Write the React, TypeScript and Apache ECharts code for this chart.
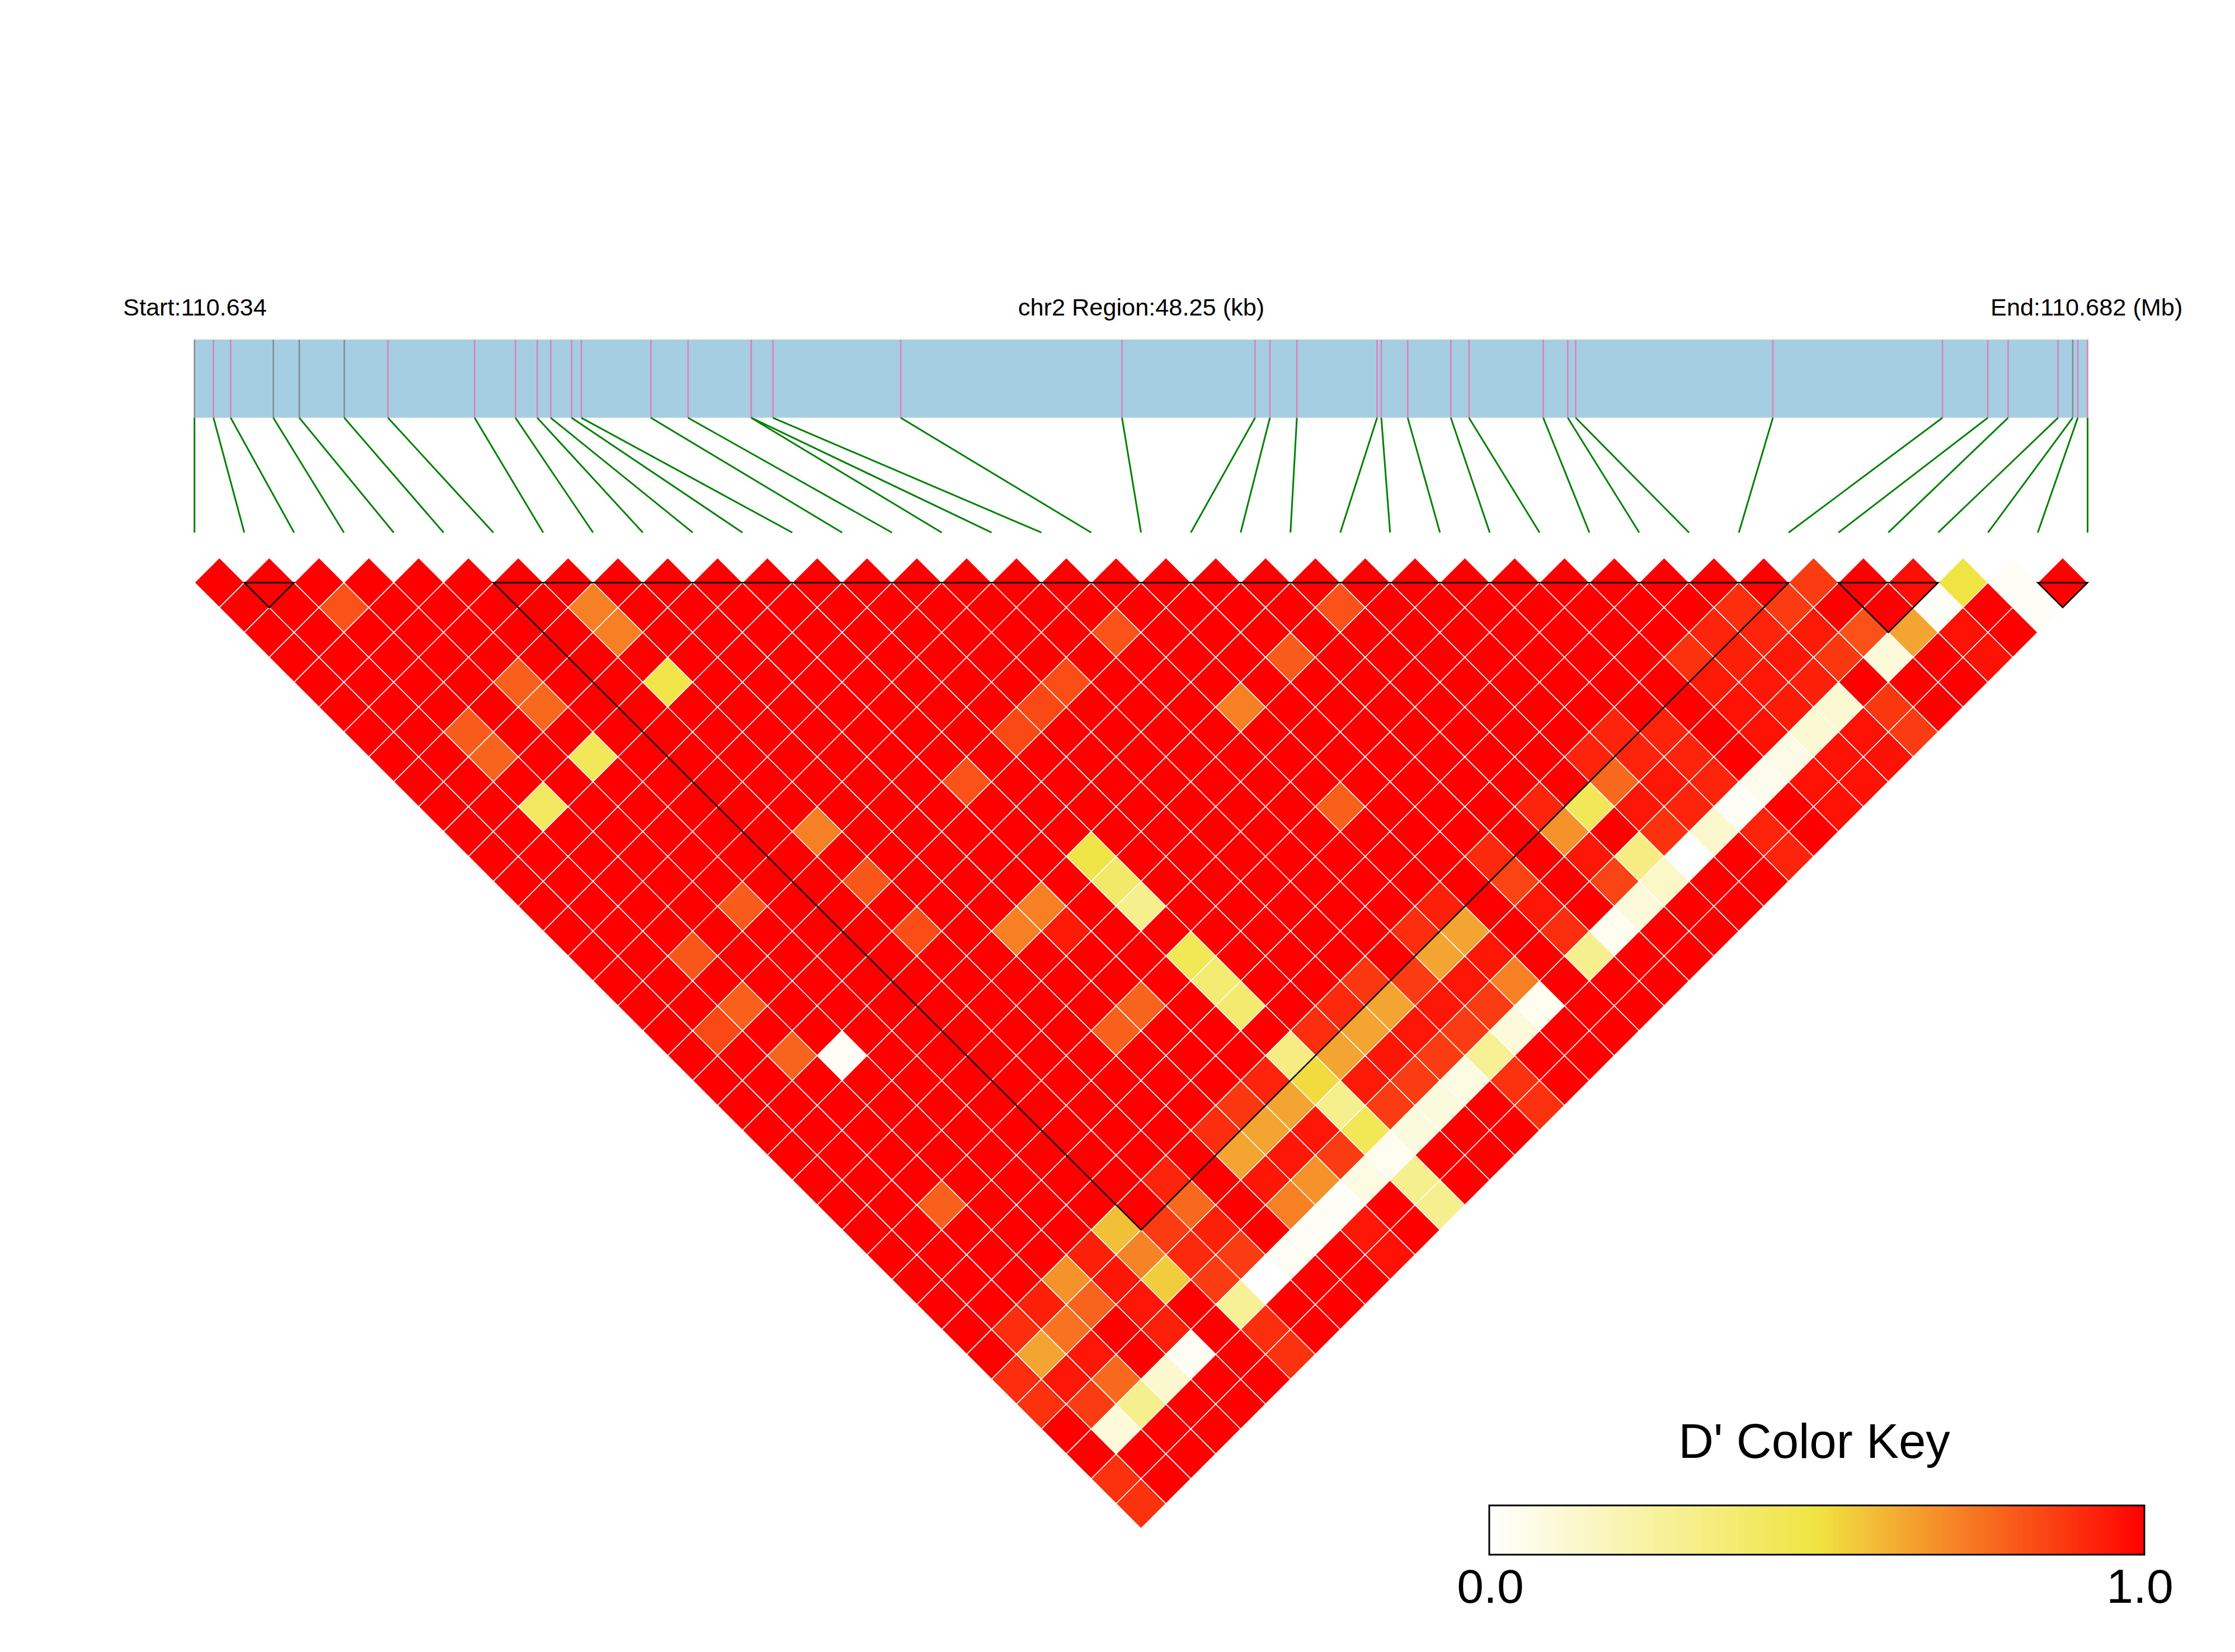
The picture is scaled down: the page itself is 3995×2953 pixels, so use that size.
import React, { useEffect, useRef } from "react";
import * as echarts from "echarts";

// SNP physical positions, kb from the region start
const snpKb = [
  0, 0.485, 0.923, 2.01, 2.672, 3.818, 4.931, 7.14, 8.181, 8.737, 9.08, 9.611, 9.86, 11.633, 12.58, 14.187, 14.194,
  14.743, 18.0, 23.64, 27.032, 27.41, 28.097, 30.142, 30.249, 30.922, 32.021, 32.483, 34.376, 35.001, 35.203, 40.229,
  44.551, 45.706, 46.224, 47.496, 47.871, 48.0, 48.25,
];
const regionKb = 48.25;
const graySnps = [0, 3, 4, 5, 36];

// D' for pairs [i, j, value]; every other pair reads as 1.0
const belowOne: number[][] = [
  [2, 4, 0.82], [7, 9, 0.72], [7, 10, 0.72], [7, 12, 0.48], [4, 9, 0.79], [4, 10, 0.77], [2, 9, 0.8], [2, 10, 0.78],
  [4, 12, 0.44], [2, 12, 0.42], [7, 18, 0.72], [4, 18, 0.8], [2, 18, 0.81], [2, 20, 0.79], [1, 20, 0.84], [2, 22, 0.78],
  [3, 23, 0.02], [9, 28, 0.79], [10, 28, 0.78], [2, 28, 0.79],
  [5, 32, 0.58], [4, 32, 0.93], [5, 33, 0.71], [5, 34, 0.55], [3, 32, 0.68], [3, 33, 0.78], [2, 32, 0.93], [4, 33, 0.95],
  [4, 34, 0.95], [4, 35, 0.93], [2, 33, 0.75], [1, 32, 0.9], [1, 33, 0.64], [2, 34, 0.95], [2, 35, 0.77], [0, 33, 0.9],
  [1, 34, 0.95], [0, 34, 0.89], [1, 35, 0.87], [2, 36, 0.3], [3, 36, 0.13], [1, 36, 0.1], [0, 37, 0.89], [0, 38, 0.89],
  [12, 30, 0.38], [15, 33, 0.64], [16, 34, 0.95], [17, 35, 0.87], [18, 36, 0.04], [13, 32, 0.9], [13, 33, 0.64],
  [14, 33, 0.64], [15, 34, 0.95], [16, 35, 0.87], [17, 36, 0.1], [12, 32, 0.33], [12, 33, 0.52], [12, 34, 0.3],
  [12, 35, 0.45], [12, 36, 0.04], [11, 32, 0.92], [11, 33, 0.64], [10, 32, 0.88], [10, 33, 0.64], [9, 33, 0.64],
  [9, 32, 0.9], [7, 32, 0.92], [7, 33, 0.77], [6, 33, 0.87], [6, 34, 0.91], [7, 34, 0.93], [7, 35, 0.87], [6, 35, 0.87],
  [6, 36, 0.28], [7, 36, 0], [8, 36, 0.03], [9, 36, 0.02], [10, 36, 0.02], [11, 36, 0.08], [13, 36, 0.09], [14, 36, 0.09],
  [15, 36, 0.08], [16, 36, 0.28], [12, 37, 0.3], [12, 38, 0.3], [4, 36, 0.03], [6, 37, 0.9], [6, 38, 0.89], [10, 38, 0.96],
  [10, 37, 0.95], [10, 35, 0.68], [9, 35, 0.72], [11, 35, 0.87], [13, 35, 0.87], [14, 35, 0.87], [15, 35, 0.87],
  [16, 38, 0.89], [16, 37, 0.89], [11, 34, 0.95], [13, 34, 0.94], [14, 34, 0.95], [9, 34, 0.95], [10, 34, 0.95],
  [32, 33, 0.87], [35, 36, 0.5], [36, 37, 0.02], [34, 35, 0.97], [30, 32, 0.9], [31, 33, 0.87], [34, 36, 0.02],
  [36, 38, 0.02], [29, 32, 0.92], [30, 33, 0.92], [31, 34, 0.94], [32, 35, 0.82], [33, 36, 0.64], [34, 37, 0.96],
  [28, 32, 0.89], [29, 33, 0.93], [30, 34, 0.95], [31, 35, 0.88], [32, 36, 0.1], [34, 38, 0.96], [28, 33, 0.94],
  [29, 34, 0.95], [30, 35, 0.93], [30, 36, 0.12], [29, 35, 0.94], [28, 34, 0.96], [31, 37, 0.88], [25, 32, 0.92],
  [26, 33, 0.92], [28, 35, 0.96], [29, 36, 0.12], [30, 37, 0.96], [31, 38, 0.87], [24, 32, 0.92], [25, 33, 0.92],
  [26, 34, 0.92], [28, 36, 0.07], [29, 37, 0.96], [30, 38, 0.96], [24, 33, 0.77], [25, 34, 0.95], [26, 35, 0.92],
  [27, 36, 0.05], [28, 37, 0.96], [29, 38, 0.96], [22, 32, 0.92], [23, 33, 0.44], [24, 34, 0.95], [25, 35, 0.92],
  [26, 36, 0.02], [28, 38, 0.96], [22, 33, 0.68], [24, 35, 0.89], [25, 36, 0.13], [26, 37, 0.92], [20, 32, 0.91],
  [22, 34, 0.95], [23, 35, 0.33], [24, 36, 0], [26, 38, 0.92], [20, 33, 0.85], [22, 35, 0.85], [23, 36, 0.15],
  [18, 32, 0.93], [20, 34, 0.95], [22, 36, 0.1], [17, 32, 0.9], [18, 33, 0.64], [20, 35, 0.9], [21, 36, 0.04],
  [17, 33, 0.64], [18, 34, 0.95], [20, 36, 0.3], [16, 33, 0.87], [17, 34, 0.95], [18, 35, 0.72], [22, 24, 0.82],
  [17, 20, 0.82], [20, 24, 0.8], [15, 20, 0.83], [14, 20, 0.84], [18, 24, 0.72], [13, 20, 0.84], [11, 20, 0.82],
  [18, 28, 0.79], [12, 24, 0.49], [7, 20, 0.81], [12, 25, 0.4], [12, 26, 0.3], [10, 24, 0.72], [9, 24, 0.72],
  [10, 25, 0.94], [7, 22, 0.83], [12, 28, 0.45], [12, 29, 0.37], [15, 32, 0.88], [14, 32, 0.91],
];

// LD blocks, as [first SNP, last SNP]
const ldBlocks = [[1, 2], [6, 32], [33, 35], [37, 38]];
const keyStops = ["#FFFFFF", "#F0E442", "#FF0000"];
const keyLabels = ["0.0", "1.0"];

const snpCount = snpKb.length;
const lookup = new Map(belowOne.map((d) => [`${d[0]}-${d[1]}`, d[2]]));
const cells: number[][] = [];
for (let i = 0; i < snpCount; i++) {
  for (let j = i + 1; j < snpCount; j++) {
    cells.push([i, j, lookup.has(`${i}-${j}`) ? (lookup.get(`${i}-${j}`) as number) : 1]);
  }
}

const FONT = "Liberation Sans";
const toIdx = (kb: number) => (kb / regionKb) * (snpCount - 1);
// y axis unit is one heat-map row
const TRACK_TOP = -9.76;
const TRACK_BOTTOM = -6.62;
const LINK_BOTTOM = -2.01;

function text(content: string, x: number, y: number, size: number, align: string) {
  return {
    type: "text",
    x,
    y,
    silent: true,
    style: { text: content, fill: "#000", font: `${size}px "${FONT}"`, textAlign: align, textVerticalAlign: "middle", verticalAlign: "middle" },
  };
}

export default function App() {
  const ref = useRef<HTMLDivElement>(null);
  useEffect(() => {
    const chart = echarts.init(ref.current!, undefined, { renderer: "svg" });
    chart.setOption({
      animation: false,
      backgroundColor: "#fff",
      grid: { left: 347.6, width: 3383.9, top: 551.9, height: 2180.5, containLabel: false },
      xAxis: { type: "value", min: 0, max: snpCount - 1, show: false },
      yAxis: { type: "value", min: -11, max: 38, inverse: true, show: false },
      visualMap: { show: false, type: "continuous", min: 0, max: 1, dimension: 2, seriesIndex: 3, inRange: { color: keyStops } },
      series: [
        {
          type: "custom",
          name: "track",
          coordinateSystem: "cartesian2d",
          silent: true,
          data: [[0, snpCount - 1]],
          renderItem: (_p: any, api: any) => {
            const a = api.coord([api.value(0), TRACK_TOP]);
            const b = api.coord([api.value(1), TRACK_BOTTOM]);
            return { type: "rect", shape: { x: a[0], y: a[1], width: b[0] - a[0], height: b[1] - a[1] }, style: { fill: "#A6CEE3" } };
          },
        },
        {
          type: "custom",
          name: "snp ticks",
          coordinateSystem: "cartesian2d",
          silent: true,
          data: snpKb.map((kb, i) => [toIdx(kb), i]),
          renderItem: (_p: any, api: any) => {
            const a = api.coord([api.value(0), TRACK_TOP]);
            const b = api.coord([api.value(0), TRACK_BOTTOM]);
            const gray = graySnps.includes(api.value(1));
            return {
              type: "line",
              shape: { x1: a[0], y1: a[1], x2: b[0], y2: b[1] },
              style: { stroke: gray ? "#7F8C8C" : "#DE7FB6", lineWidth: 2.5 },
            };
          },
        },
        {
          type: "custom",
          name: "links",
          coordinateSystem: "cartesian2d",
          silent: true,
          data: snpKb.map((kb, i) => [toIdx(kb), i]),
          renderItem: (_p: any, api: any) => {
            const a = api.coord([api.value(0), TRACK_BOTTOM]);
            const b = api.coord([api.value(1), LINK_BOTTOM]);
            return { type: "line", shape: { x1: a[0], y1: a[1], x2: b[0], y2: b[1] }, style: { stroke: "#008000", lineWidth: 3 } };
          },
        },
        {
          type: "custom",
          name: "D'",
          coordinateSystem: "cartesian2d",
          silent: true,
          data: cells,
          renderItem: (_p: any, api: any) => {
            const i = api.value(0);
            const j = api.value(1);
            const cx = (i + j) / 2;
            const r = j - i - 1;
            const pts = [
              api.coord([cx, r - 1]),
              api.coord([cx + 0.5, r]),
              api.coord([cx, r + 1]),
              api.coord([cx - 0.5, r]),
            ];
            return { type: "polygon", shape: { points: pts }, style: { fill: api.visual("color"), stroke: "#FFFFFF", lineWidth: 1.5 } };
          },
        },
        {
          type: "custom",
          name: "blocks",
          coordinateSystem: "cartesian2d",
          silent: true,
          data: ldBlocks,
          renderItem: (_p: any, api: any) => {
            const a = api.value(0);
            const b = api.value(1);
            const pts = [api.coord([a, 0]), api.coord([b, 0]), api.coord([(a + b) / 2, b - a])];
            return { type: "polygon", shape: { points: pts }, style: { fill: "none", stroke: "#000", lineWidth: 2.5 } };
          },
        },
      ],
      graphic: [
        text("Start:110.634", 220, 549, 43.3, "left"),
        text("chr2 Region:48.25 (kb)", 2040, 549, 43.3, "center"),
        text("End:110.682 (Mb)", 3558, 549, 43.3, "left"),
        text("D' Color Key", 3243, 2575, 87, "center"),
        {
          type: "rect",
          silent: true,
          shape: { x: 2662, y: 2691, width: 1171, height: 88 },
          style: {
            fill: new echarts.graphic.LinearGradient(0, 0, 1, 0, [
              { offset: 0, color: keyStops[0] },
              { offset: 0.5, color: keyStops[1] },
              { offset: 1, color: keyStops[2] },
            ]),
            stroke: "#000",
            lineWidth: 3,
          },
        },
        text(keyLabels[0], 2664, 2835, 86, "center"),
        text(keyLabels[1], 3825, 2835, 86, "center"),
      ],
    });
    return () => chart.dispose();
  }, []);
  return <div ref={ref} style={{ position: "absolute", left: 0, top: 0, width: 3995, height: 2953 }} />;
}
